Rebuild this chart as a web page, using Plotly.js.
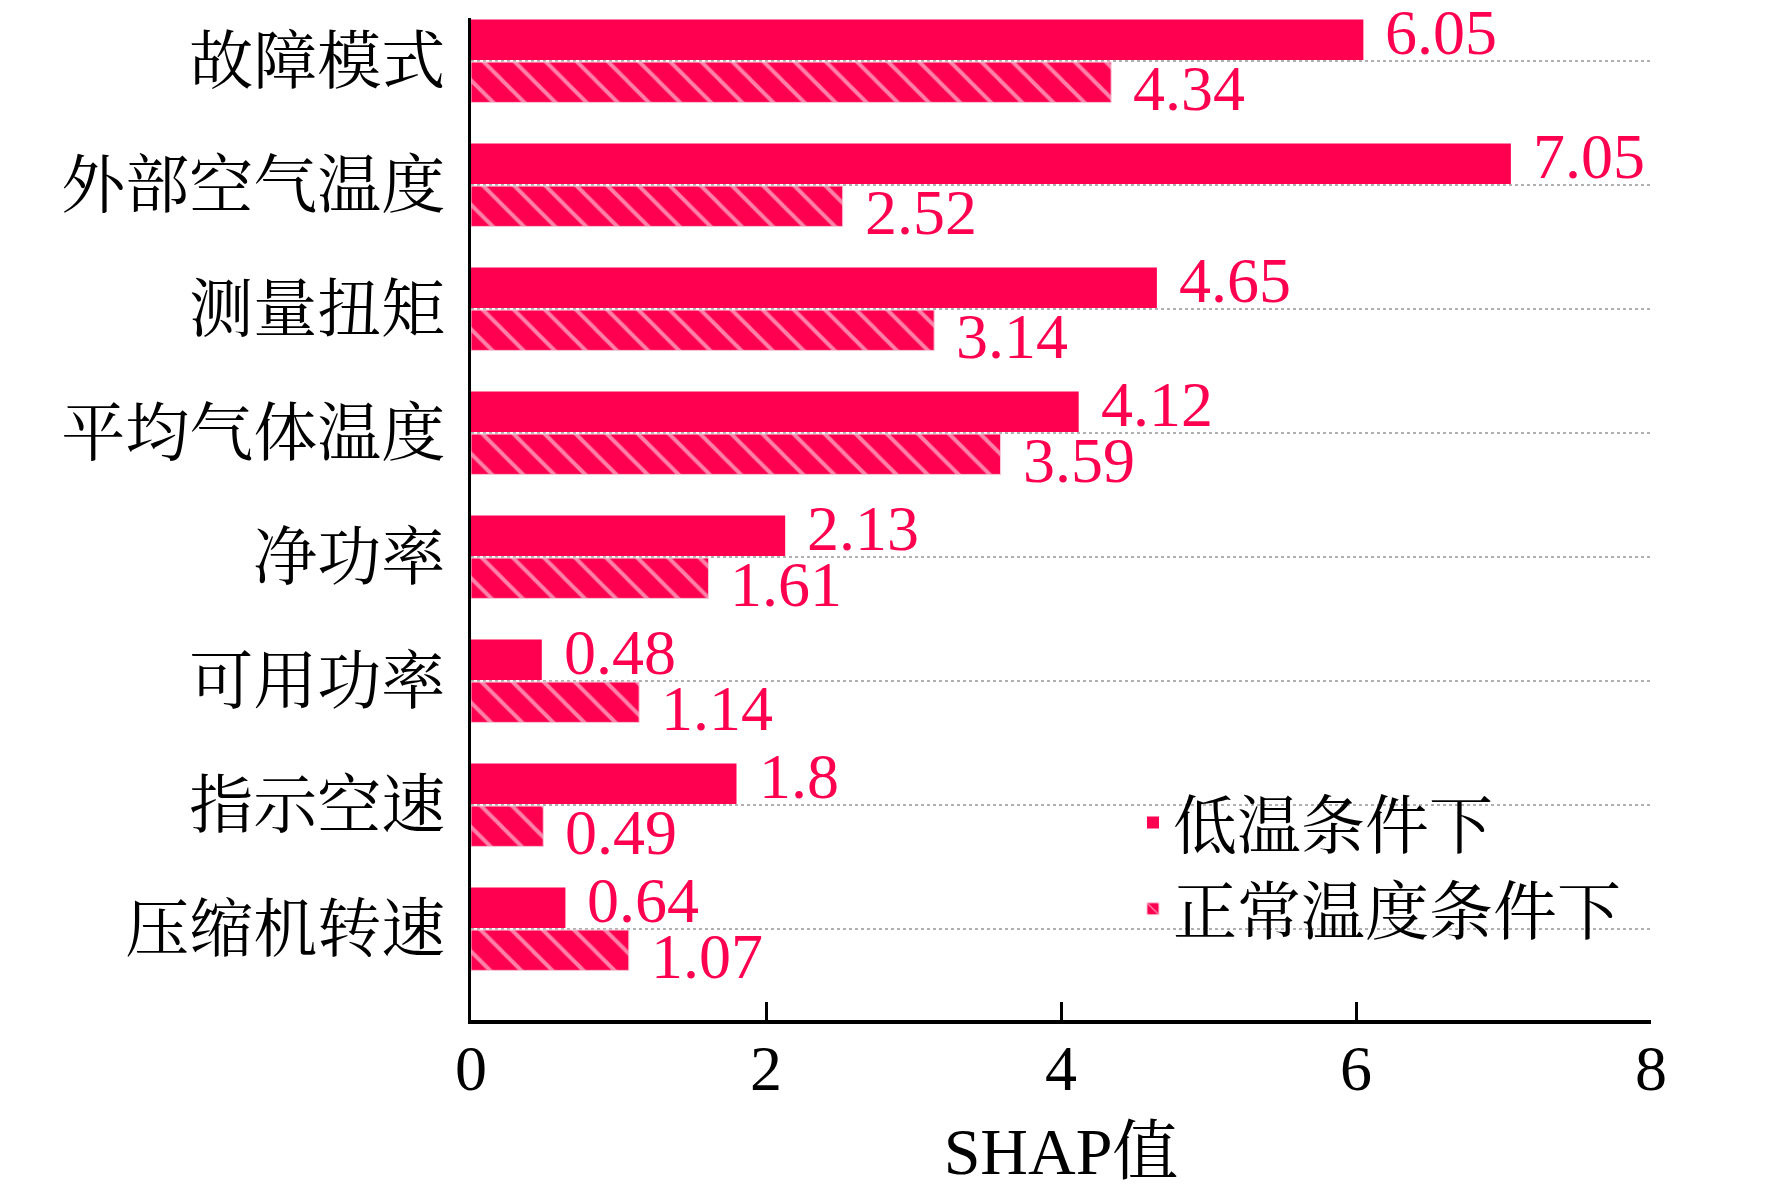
<!DOCTYPE html>
<html>
<head>
<meta charset="utf-8">
<script src="https://cdn.plot.ly/plotly-3.0.1.min.js"></script>
<style>
  html, body { margin: 0; padding: 0; background: #fff; }
  #chart { width: 1772px; height: 1197px; }
</style>
</head>
<body>
<div id="chart"></div>
<script>
// feature names, top to bottom
const categories = ['故障模式', '外部空气温度', '测量扭矩', '平均气体温度', '净功率', '可用功率', '指示空速', '压缩机转速'];
// SHAP values
const lowTemp = [6.05, 7.05, 4.65, 4.12, 2.13, 0.48, 1.8, 0.64];
const normalTemp = [4.34, 2.52, 3.14, 3.59, 1.61, 1.14, 0.49, 1.07];
const seriesNames = ['低温条件下', '正常温度条件下'];
const xTicks = [0, 2, 4, 6, 8];

const red = '#ff0050';
const font = 'Liberation Serif, Times New Roman, Noto Serif CJK SC, Noto Sans CJK SC, serif';
const bargap = 0.315;
const off = (1 - bargap) / 4; // centre of each bar within its group

const traces = [
  {
    type: 'bar',
    orientation: 'h',
    name: seriesNames[0],
    y: categories,
    x: lowTemp,
    marker: { color: red, line: { width: 0 } },
    hoverinfo: 'x+name',
  },
  {
    type: 'bar',
    orientation: 'h',
    name: seriesNames[1],
    y: categories,
    x: normalTemp,
    marker: {
      color: red,
      line: { color: '#f8c8d8', width: 1 },
      pattern: { shape: '\\', fillmode: 'overlay', fgcolor: '#ffffff', size: 22, solidity: 0.18 },
    },
    hoverinfo: 'x+name',
  },
];

// value labels next to bars
const annotations = [];
lowTemp.forEach((v, i) => {
  annotations.push({
    x: v, y: i - off, xref: 'x', yref: 'y',
    text: String(v), showarrow: false,
    xanchor: 'left', yanchor: 'middle', xshift: 20, yshift: 7,
    font: { family: font, size: 64, color: red },
  });
});
normalTemp.forEach((v, i) => {
  annotations.push({
    x: v, y: i + off, xref: 'x', yref: 'y',
    text: String(v), showarrow: false,
    xanchor: 'left', yanchor: 'middle', xshift: 20, yshift: -6,
    font: { family: font, size: 64, color: red },
  });
});

const layout = {
  width: 1772,
  height: 1197,
  margin: { l: 471, r: 121, t: 18, b: 177 },
  paper_bgcolor: '#ffffff',
  plot_bgcolor: '#ffffff',
  font: { family: font, size: 64, color: '#000' },
  barmode: 'group',
  bargap: bargap,
  bargroupgap: 0.05,
  showlegend: true,
  legend: {
    x: 0.561, y: 0.245, xanchor: 'left', yanchor: 'top',
    bgcolor: 'rgba(0,0,0,0)',
    font: { family: font, size: 64, color: '#000' },
    tracegroupgap: 0,
  },
  xaxis: {
    range: [0, 8],
    tickvals: xTicks,
    ticktext: xTicks.map(String),
    ticks: 'inside',
    ticklen: 18,
    tickwidth: 3,
    tickcolor: '#000',
    showline: true,
    linecolor: '#000',
    linewidth: 3.5,
    showgrid: false,
    zeroline: false,
    ticklabelstandoff: -10,
    tickfont: { family: font, size: 64, color: '#000' },
    title: { text: 'SHAP值', font: { family: font, size: 66, color: '#000' }, standoff: 25 },
    automargin: false,
    fixedrange: true,
  },
  yaxis: {
    type: 'category',
    categoryorder: 'array',
    categoryarray: categories,
    range: [7.734, -0.347],
    ticks: '',
    showline: true,
    linecolor: '#000',
    linewidth: 3,
    showgrid: true,
    gridcolor: '#b0b0b0',
    gridwidth: 1.5,
    griddash: 'dot',
    zeroline: false,
    ticklabelstandoff: 10,
    tickfont: { family: font, size: 64, color: '#000' },
    automargin: false,
    fixedrange: true,
  },
  annotations: annotations,
};

Plotly.newPlot('chart', traces, layout, { displayModeBar: false, staticPlot: true });
</script>
</body>
</html>
